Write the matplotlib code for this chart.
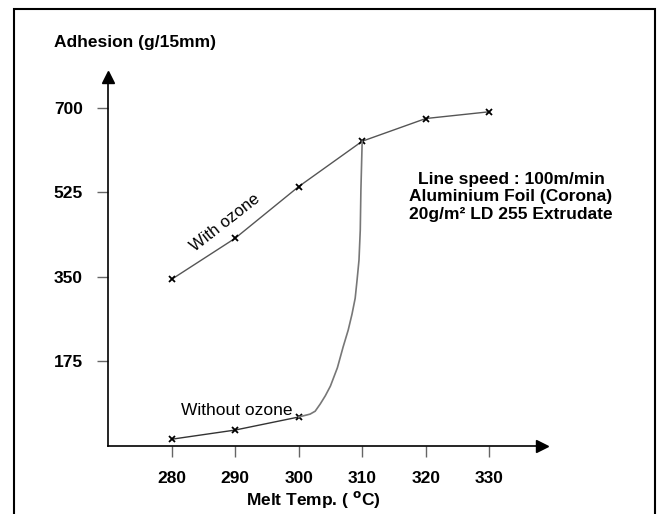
import matplotlib.pyplot as plt
from matplotlib.patches import Rectangle

plt.rcParams['font.family'] = ['Liberation Sans', 'DejaVu Sans']

# melt temperature (degC)
temps = [280, 290, 300, 310, 320, 330]
# adhesion (g/15mm) with ozone
with_ozone = [345, 430, 537, 631, 678, 692]
# adhesion without ozone (measured points)
without_temps = [280, 290, 300]
without_ozone = [14, 33, 60]
# hand drawn connecting curve from 300 up to the 310 point
curve_x = [300, 301.8, 302.6, 303.4, 304.2, 305.0, 306.1, 307.0, 307.8,
           308.4, 308.9, 309.2, 309.5, 309.7, 309.8, 310]
curve_y = [60, 66, 72, 87, 104, 124, 162, 205, 240,
           273, 306, 344, 385, 447, 530, 631]

yticks = [175, 350, 525, 700]

W, H = 657, 514
fig = plt.figure(figsize=(W / 100, H / 100), dpi=100)

# outer frame (open at the bottom, cut off by the image)
fig.patches.append(Rectangle((14 / W, -0.05), (655 - 14) / W, 1.05 - 9 / H,
                             transform=fig.transFigure, fill=False,
                             edgecolor='black', linewidth=1.5))

ax = fig.add_axes([108 / W, (H - 446) / H, (542 - 108) / W, (446 - 77) / H])
ax.set_xlim(270, 338.3)
ax.set_ylim(0, 764)

for s in ['top', 'right']:
    ax.spines[s].set_visible(False)
for s in ['left', 'bottom']:
    ax.spines[s].set_linewidth(1.2)
ax.plot(1, 0, '>k', transform=ax.transAxes, clip_on=False, markersize=8)
ax.plot(0, 1, '^k', transform=ax.transAxes, clip_on=False, markersize=8)

ax.set_xticks(temps)
ax.set_yticks(yticks)
ax.tick_params(length=8, width=1, color='#666666', pad=10)
ax.set_xticklabels([str(t) for t in temps], fontsize=12.5, fontweight='bold')
ax.set_yticklabels([str(v) for v in yticks], fontsize=12.5, fontweight='bold')

ax.plot(temps, with_ozone, color='#555555', linewidth=1, marker='x',
        markersize=5, markeredgecolor='black', markeredgewidth=1.3)
ax.plot(without_temps, without_ozone, color='#333333', linewidth=1, marker='x',
        markersize=5, markeredgecolor='black', markeredgewidth=1.3)
ax.plot(curve_x, curve_y, color='#777777', linewidth=1.2)

ax.text(288.4, 462, 'With ozone', rotation=38, fontsize=12,
        ha='center', va='center')
ax.text(290.3, 74, 'Without ozone', fontsize=12.5, ha='center', va='center')

fig.text(135 / W, 1 - 42 / H, 'Adhesion (g/15mm)', fontsize=12.5,
         fontweight='bold', ha='center', va='center')
fig.text(313 / W, 1 - 499 / H, 'Melt Temp. ( $^{\\mathbf{o}}$C)', fontsize=12.5,
         fontweight='bold', ha='center', va='center')
fig.text(511 / W, 1 - 197 / H,
         'Line speed : 100m/min\nAluminium Foil (Corona)\n20g/m² LD 255 Extrudate',
         fontsize=12.5, fontweight='bold', ha='center', va='center',
         linespacing=1.2)

fig.savefig('out.png', dpi=100)
